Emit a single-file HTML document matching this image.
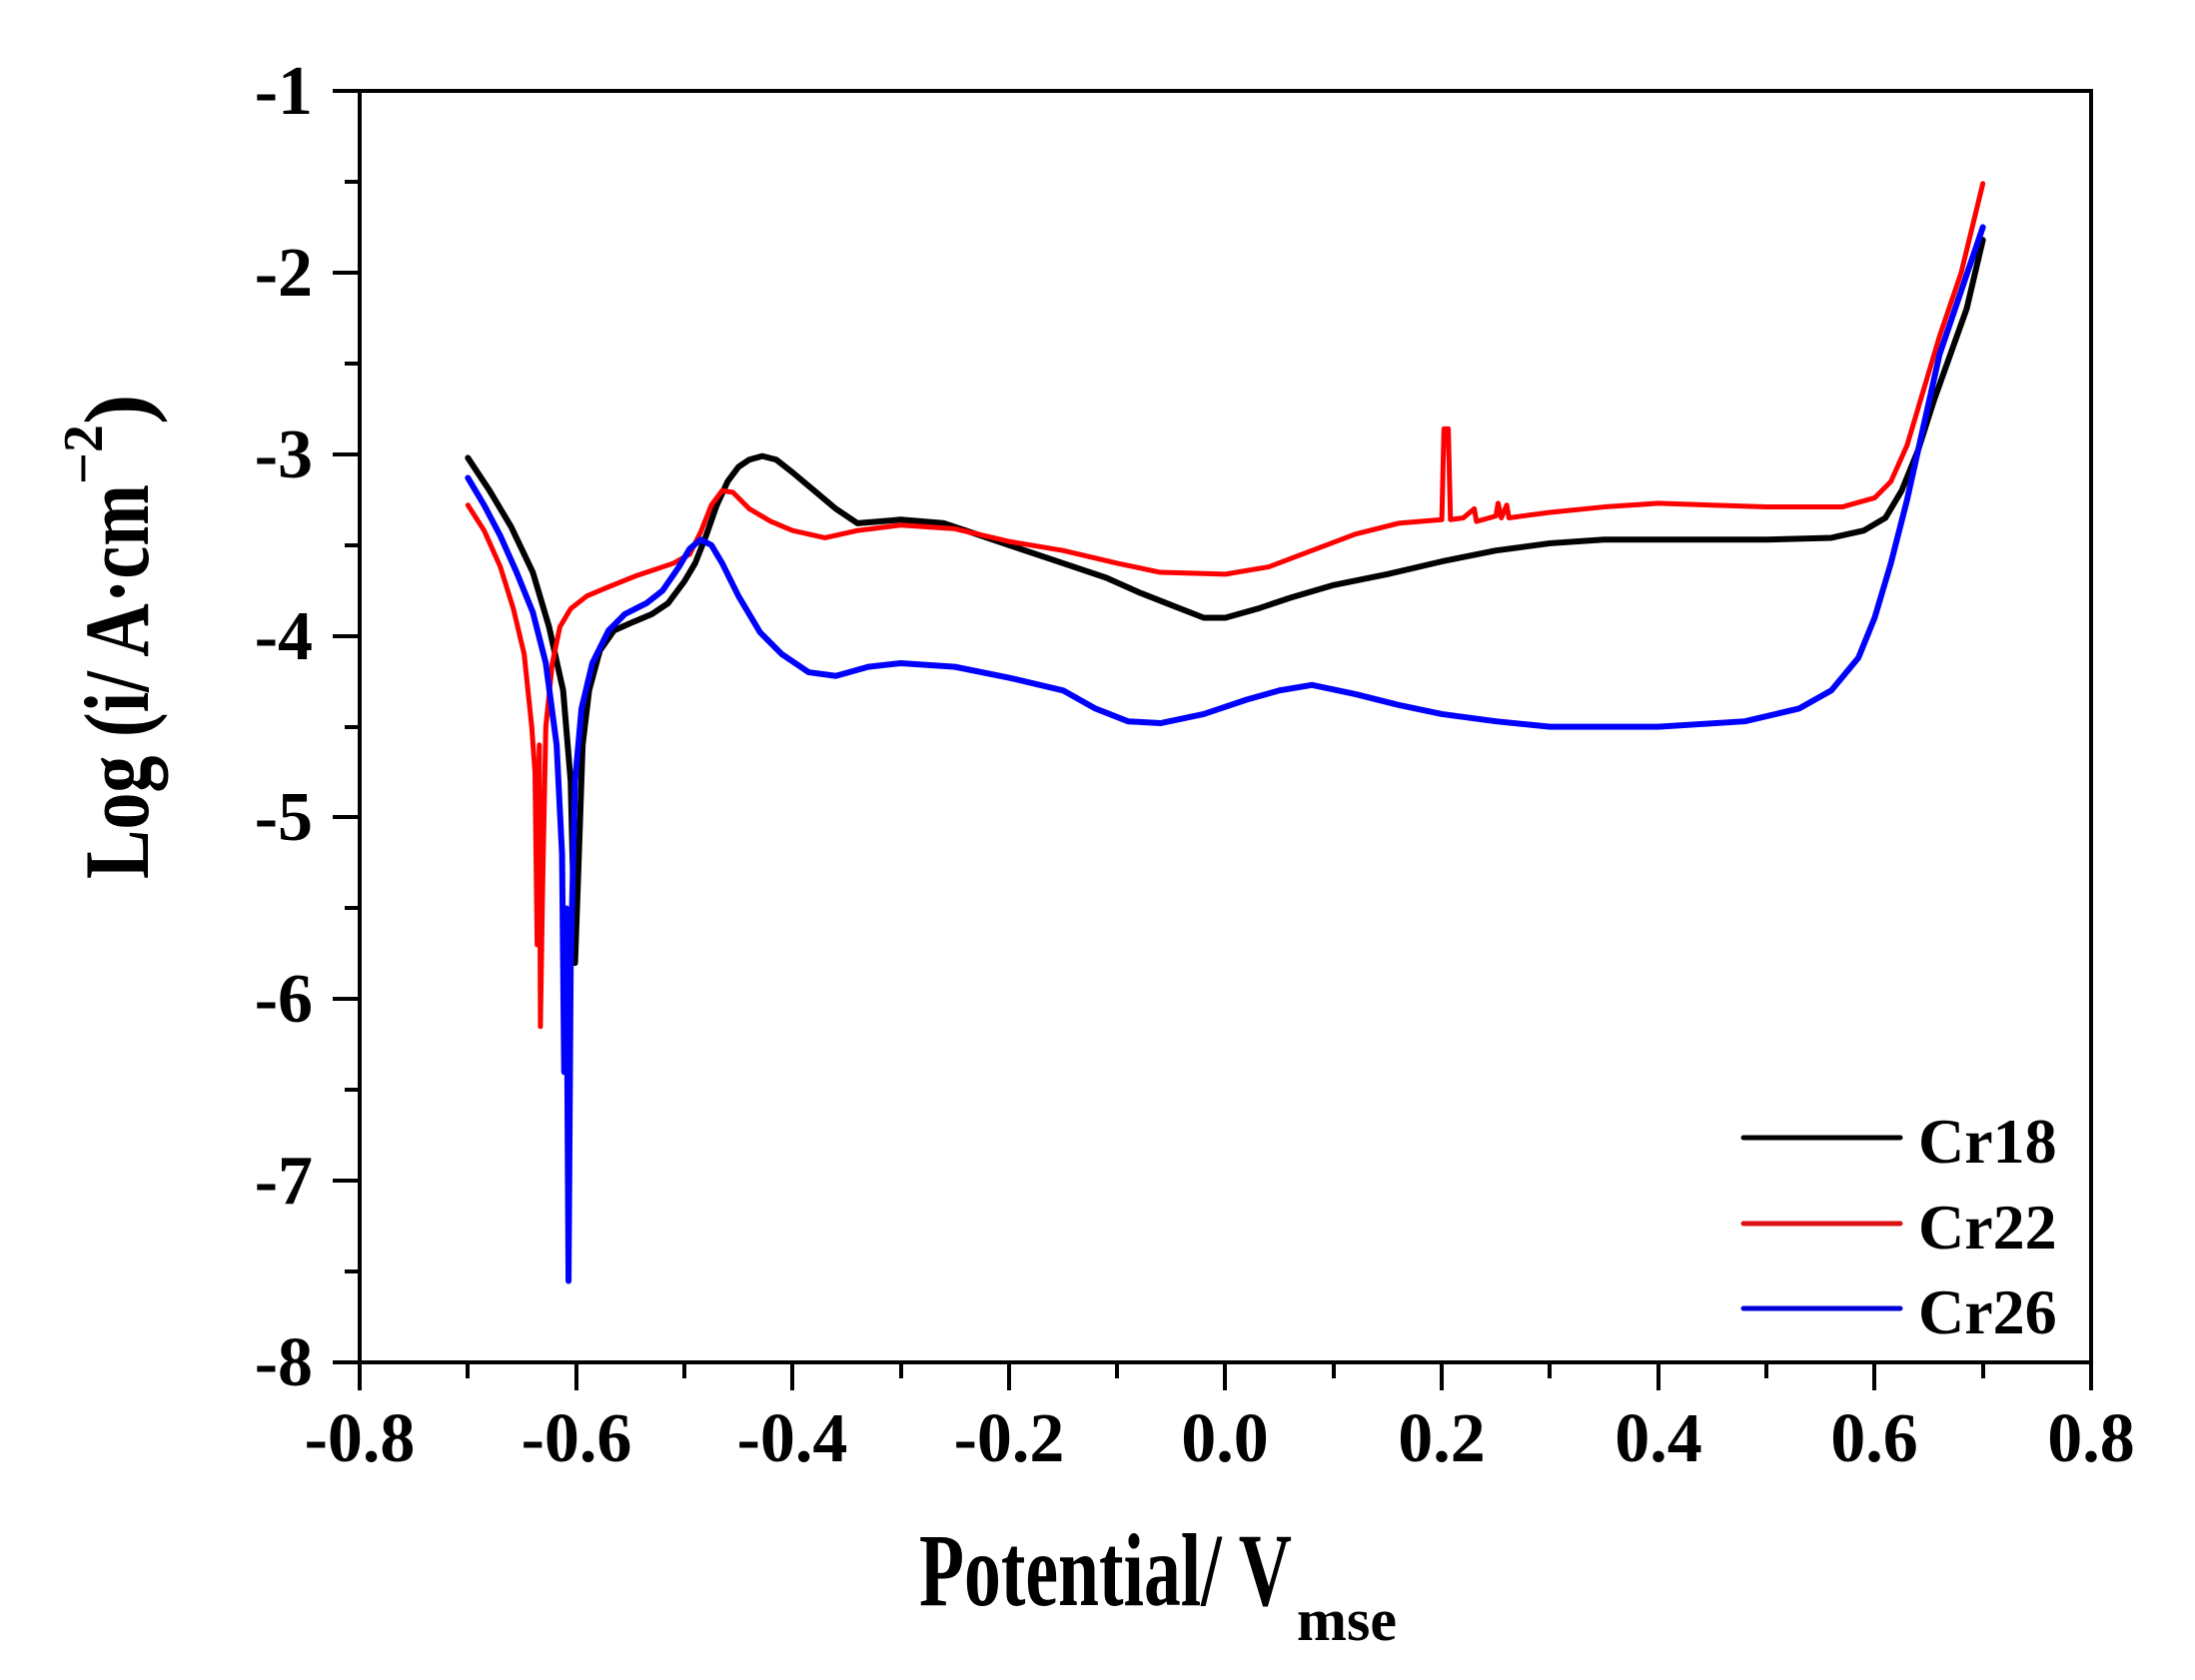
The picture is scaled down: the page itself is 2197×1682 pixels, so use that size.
<!DOCTYPE html>
<html><head><meta charset="utf-8"><style>
html,body{margin:0;padding:0;background:#fff;}
svg{display:block;}
text{font-family:"Liberation Serif",serif;font-weight:bold;fill:#000;}
</style></head><body>
<svg width="2197" height="1682" viewBox="0 0 2197 1682" xmlns="http://www.w3.org/2000/svg">
<rect width="2197" height="1682" fill="#fff"/>
<g transform="matrix(1083.1 0 0 -181.9 1226.5 -90.9)" fill="none" stroke-linejoin="round" stroke-linecap="round">
<path vector-effect="non-scaling-stroke" stroke="#000" stroke-width="6" d="M-0.7,-3.02 L-0.68,-3.2 -0.66,-3.4 -0.64,-3.65 -0.625,-3.95 -0.612,-4.3 -0.605,-4.8 -0.601,-5.8 -0.598,-5.3 -0.594,-4.6 -0.588,-4.3 -0.578,-4.08 -0.565,-3.97 -0.55,-3.93 -0.53,-3.88 -0.515,-3.82 -0.5,-3.7 -0.49,-3.6 -0.48,-3.45 -0.47,-3.28 -0.46,-3.15 -0.45,-3.07 -0.44,-3.03 -0.428,-3.01 -0.415,-3.03 -0.4,-3.1 -0.38,-3.2 -0.36,-3.3 -0.34,-3.38 -0.32,-3.37 -0.3,-3.36 -0.26,-3.38 -0.23,-3.44 -0.2,-3.5 -0.15,-3.6 -0.11,-3.68 -0.08,-3.76 -0.05,-3.83 -0.02,-3.9 0.0,-3.9 0.03,-3.85 0.06,-3.79 0.1,-3.72 0.15,-3.66 0.2,-3.59 0.25,-3.53 0.3,-3.49 0.35,-3.47 0.4,-3.47 0.5,-3.47 0.56,-3.46 0.59,-3.42 0.61,-3.35 0.625,-3.2 0.64,-2.98 0.655,-2.7 0.67,-2.45 0.685,-2.2 0.7,-1.82"/>
<path vector-effect="non-scaling-stroke" stroke="#ff0000" stroke-width="5" d="M-0.7,-3.28 L-0.685,-3.42 -0.67,-3.62 -0.658,-3.85 -0.648,-4.1 -0.641,-4.5 -0.638,-4.75 -0.636,-5.7 -0.634,-4.6 -0.633,-6.15 -0.631,-5.4 -0.628,-4.5 -0.622,-4.15 -0.615,-3.95 -0.605,-3.85 -0.59,-3.78 -0.57,-3.73 -0.545,-3.67 -0.53,-3.64 -0.51,-3.6 -0.495,-3.55 -0.485,-3.43 -0.475,-3.28 -0.465,-3.2 -0.455,-3.21 -0.44,-3.3 -0.42,-3.37 -0.4,-3.42 -0.37,-3.46 -0.34,-3.42 -0.3,-3.39 -0.25,-3.41 -0.2,-3.48 -0.15,-3.53 -0.1,-3.6 -0.06,-3.65 0.0,-3.66 0.04,-3.62 0.08,-3.53 0.12,-3.44 0.16,-3.38 0.2,-3.36 0.202,-2.86 0.206,-2.86 0.208,-3.36 0.22,-3.35 0.23,-3.3 0.232,-3.37 0.25,-3.34 0.252,-3.27 0.255,-3.35 0.26,-3.28 0.262,-3.35 0.3,-3.32 0.35,-3.29 0.4,-3.27 0.45,-3.28 0.5,-3.29 0.57,-3.29 0.6,-3.24 0.615,-3.15 0.63,-2.95 0.645,-2.65 0.66,-2.35 0.68,-2.0 0.7,-1.51"/>
<path vector-effect="non-scaling-stroke" stroke="#0000ff" stroke-width="6" d="M-0.7,-3.13 L-0.685,-3.28 -0.67,-3.45 -0.655,-3.65 -0.64,-3.87 -0.628,-4.15 -0.618,-4.6 -0.613,-5.2 -0.611,-6.4 -0.609,-5.5 -0.607,-7.55 -0.605,-5.8 -0.601,-4.8 -0.595,-4.4 -0.585,-4.15 -0.57,-3.97 -0.555,-3.88 -0.535,-3.82 -0.52,-3.75 -0.505,-3.62 -0.495,-3.52 -0.485,-3.47 -0.475,-3.5 -0.465,-3.6 -0.45,-3.78 -0.43,-3.98 -0.41,-4.1 -0.385,-4.2 -0.36,-4.22 -0.33,-4.17 -0.3,-4.15 -0.25,-4.17 -0.2,-4.23 -0.15,-4.3 -0.12,-4.4 -0.09,-4.47 -0.06,-4.48 -0.02,-4.43 0.02,-4.35 0.05,-4.3 0.08,-4.27 0.12,-4.32 0.16,-4.38 0.2,-4.43 0.25,-4.47 0.3,-4.5 0.4,-4.5 0.48,-4.47 0.53,-4.4 0.56,-4.3 0.585,-4.12 0.6,-3.9 0.615,-3.6 0.63,-3.25 0.645,-2.85 0.66,-2.45 0.68,-2.1 0.7,-1.75"/>
</g>
<rect x="360" y="91" width="1733" height="1273" fill="none" stroke="#000" stroke-width="4"/>
<g stroke="#000" stroke-width="4">
<line x1="333" y1="91" x2="360" y2="91"/><line x1="345" y1="182" x2="360" y2="182"/>
<line x1="333" y1="273" x2="360" y2="273"/><line x1="345" y1="364" x2="360" y2="364"/>
<line x1="333" y1="455" x2="360" y2="455"/><line x1="345" y1="546" x2="360" y2="546"/>
<line x1="333" y1="637" x2="360" y2="637"/><line x1="345" y1="728" x2="360" y2="728"/>
<line x1="333" y1="818" x2="360" y2="818"/><line x1="345" y1="909" x2="360" y2="909"/>
<line x1="333" y1="1000" x2="360" y2="1000"/><line x1="345" y1="1091" x2="360" y2="1091"/>
<line x1="333" y1="1182" x2="360" y2="1182"/><line x1="345" y1="1273" x2="360" y2="1273"/>
<line x1="333" y1="1364" x2="360" y2="1364"/>
<line x1="360" y1="1364" x2="360" y2="1392"/><line x1="468" y1="1364" x2="468" y2="1380"/>
<line x1="577" y1="1364" x2="577" y2="1392"/><line x1="685" y1="1364" x2="685" y2="1380"/>
<line x1="793" y1="1364" x2="793" y2="1392"/><line x1="902" y1="1364" x2="902" y2="1380"/>
<line x1="1010" y1="1364" x2="1010" y2="1392"/><line x1="1118" y1="1364" x2="1118" y2="1380"/>
<line x1="1226" y1="1364" x2="1226" y2="1392"/><line x1="1335" y1="1364" x2="1335" y2="1380"/>
<line x1="1443" y1="1364" x2="1443" y2="1392"/><line x1="1551" y1="1364" x2="1551" y2="1380"/>
<line x1="1660" y1="1364" x2="1660" y2="1392"/><line x1="1768" y1="1364" x2="1768" y2="1380"/>
<line x1="1876" y1="1364" x2="1876" y2="1392"/><line x1="1985" y1="1364" x2="1985" y2="1380"/>
<line x1="2093" y1="1364" x2="2093" y2="1392"/>
</g>
<g font-size="70" text-anchor="end">
<text x="313" y="114">-1</text><text x="313" y="296">-2</text><text x="313" y="478">-3</text>
<text x="313" y="660">-4</text><text x="313" y="841">-5</text><text x="313" y="1023">-6</text>
<text x="313" y="1205">-7</text><text x="313" y="1387">-8</text>
</g>
<g font-size="70" text-anchor="middle">
<text x="360" y="1463">-0.8</text><text x="577" y="1463">-0.6</text><text x="793" y="1463">-0.4</text>
<text x="1010" y="1463">-0.2</text><text x="1226" y="1463">0.0</text><text x="1443" y="1463">0.2</text>
<text x="1660" y="1463">0.4</text><text x="1876" y="1463">0.6</text><text x="2093" y="1463">0.8</text>
</g>
<text x="920" y="1607" font-size="104" textLength="373" lengthAdjust="spacingAndGlyphs">Potential/ V</text>
<text x="1298" y="1642" font-size="60">mse</text>
<g transform="translate(148,880) rotate(-90)">
<text x="0" y="0" font-size="92"><tspan textLength="395" lengthAdjust="spacingAndGlyphs">Log (i/ A·cm</tspan><tspan font-size="56" dy="-46">−2</tspan><tspan dy="46">)</tspan></text>
</g>
<g stroke-width="5" stroke-linecap="round">
<line x1="1745" y1="1139" x2="1902" y2="1139" stroke="#000"/>
<line x1="1745" y1="1225" x2="1902" y2="1225" stroke="#dd1111"/>
<line x1="1745" y1="1310" x2="1902" y2="1310" stroke="#0000dd"/>
</g>
<g font-size="64">
<text x="1920" y="1164">Cr18</text>
<text x="1920" y="1250">Cr22</text>
<text x="1920" y="1335">Cr26</text>
</g>
</svg>
</body></html>
